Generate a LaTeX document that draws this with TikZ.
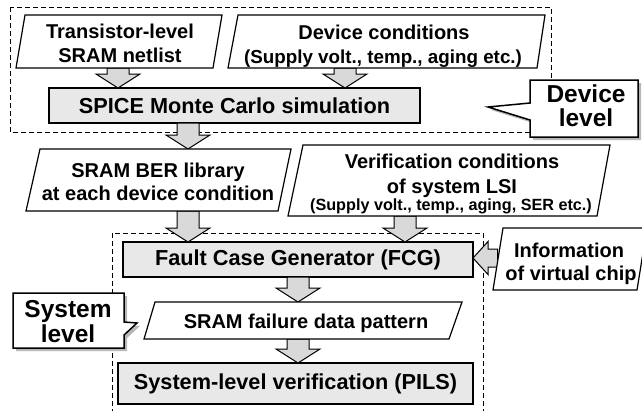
\documentclass[tikz,border=0pt]{standalone}
\usepackage{fontspec}
\setmainfont{Liberation Sans}
\usetikzlibrary{calc}

\definecolor{boxgray}{gray}{0.91}
\definecolor{arrowgray}{gray}{0.85}
\definecolor{shadowgray}{gray}{0.72}

\tikzset{
  every node/.style={inner sep=0pt, outer sep=0pt},
  lbl/.style={anchor=base, font=\bfseries\fontsize{20}{24}\selectfont},
  small/.style={anchor=base, font=\bfseries\fontsize{18.8}{22}\selectfont},
  smaller/.style={anchor=base, font=\bfseries\fontsize{16.2}{19}\selectfont},
  big/.style={anchor=base, font=\bfseries\fontsize{24.5}{28}\selectfont},
  graybox/.style={draw, fill=boxgray, line width=1.2pt,
    font=\bfseries\fontsize{21.7}{26}\selectfont},
  para/.style={draw, fill=white, line width=1.2pt, line join=miter},
  frame/.style={draw, line width=0.9pt, dash pattern=on 5pt off 3pt},
  blockarrow/.style={draw, fill=arrowgray, line width=1pt, line join=miter},
  callout/.style={draw, fill=white, line width=1.5pt, line join=miter},
  calloutshadow/.style={fill=shadowgray, shift={(3,3)}}
}

% downward block arrow at the x of #1, from the y of #1 to the y of #2
\newcommand\fatdown[2]{%
  \path[blockarrow] let \p1=(#1), \p2=(#2) in
    (\x1-11pt,\y1) -- (\x1+11pt,\y1) -- (\x1+11pt,\y2+14pt) -- (\x1+22pt,\y2+14pt)
    -- (\x1,\y2) -- (\x1-22pt,\y2+14pt) -- (\x1-11pt,\y2+14pt) -- cycle;}
% leftward block arrow at the y of #1, from the x of #1 to the x of #2
\newcommand\fatleft[2]{%
  \path[blockarrow] let \p1=(#1), \p2=(#2) in
    (\x1,\y1+9pt) -- (\x2+15pt,\y1+9pt) -- (\x2+15pt,\y1+16.5pt) -- (\x2,\y1)
    -- (\x2+15pt,\y1-16.5pt) -- (\x2+15pt,\y1-9pt) -- (\x1,\y1-9pt) -- cycle;}

\begin{document}
\begin{tikzpicture}[x=1pt,y=-1pt]
\useasboundingbox (0,0) rectangle (642,410);

% dashed frames of the two levels
\draw[frame] (10,7) rectangle (551,132);
\draw[frame] (112,414) -- (112,233) -- (483,233) -- (483,414);

% process boxes
\node[graybox, minimum width=371pt, minimum height=35pt] (spice) at (234.5,105.5)
  {SPICE Monte Carlo simulation};
\node[graybox, minimum width=350pt, minimum height=35pt] (fcg) at (298,259.5)
  {Fault Case Generator (FCG)};
\node[graybox, minimum width=355pt, minimum height=41pt] (pils) at (295.5,383.5)
  {System-level verification (PILS)};

% ports on the data shapes
\coordinate (netlist-out) at (118,68);
\coordinate (cond-out) at (345,68);
\coordinate (spice-out) at (188,123);
\coordinate (ber-in) at (188,149);
\coordinate (ber-out) at (188,211);
\coordinate (ver-out) at (405,216);
\coordinate (info-out) at (497.5,258);
\coordinate (fail-in) at (298,302);
\coordinate (fail-out) at (298,339);

% flow arrows
\fatdown{netlist-out}{spice.north}
\fatdown{cond-out}{spice.north}
\fatdown{spice-out}{ber-in}
\fatdown{ber-out}{fcg.north}
\fatdown{ver-out}{fcg.north}
\fatleft{info-out}{fcg.east}
\fatdown{fcg.south}{fail-in}
\fatdown{fail-out}{pils.north}

% data shapes
\draw[para] (25,15) -- (222,15) -- (213,68) -- (16,68) -- cycle;
\node[lbl] (netlist-l1) at (120,38) {Transistor-level};
\node[lbl] (netlist-l2) at (120,62) {SRAM netlist};

\draw[para] (238,15) -- (545,15) -- (537,68) -- (228,68) -- cycle;
\node[lbl] (cond-l1) at (384,39) {Device conditions};
\node[small] (cond-l2) at (383,63) {(Supply volt., temp., aging etc.)};

\draw[para] (40,149) -- (291,149) -- (278,211) -- (26,211) -- cycle;
\node[lbl] (ber-l1) at (158,177) {SRAM BER library};
\node[lbl] (ber-l2) at (158,200) {at each device condition};

\draw[para] (303,145) -- (610,145) -- (597,216) -- (288,216) -- cycle;
\node[lbl] (ver-l1) at (452,168) {Verification conditions};
\node[lbl] (ver-l2) at (452,193) {of system LSI};
\node[smaller] (ver-l3) at (451,210) {(Supply volt., temp., aging, SER etc.)};

\draw[para] (503,228) -- (647,228) -- (637,290) -- (493,290) -- cycle;
\node[lbl] (info-l1) at (569,257) {Information};
\node[lbl] (info-l2) at (571,280) {of virtual chip};

\draw[para] (155,302) -- (462,302) -- (449,339) -- (144,339) -- cycle;
\node[lbl] (fail-l) at (306,328) {SRAM failure data pattern};

% level callouts
\path[calloutshadow] (530,80) -- (638,80) -- (638,137) -- (530,137) -- (530,120)
  -- (488,107) -- (530,103) -- cycle;
\draw[callout] (530,80) -- (638,80) -- (638,137) -- (530,137) -- (530,120)
  -- (488,107) -- (530,103) -- cycle;
\node[big] (dev-l1) at (586,102) {Device};
\node[big] (dev-l2) at (586,126.5) {level};

\path[calloutshadow] (13,293) -- (124,293) -- (124,322) -- (137,323) -- (124,335)
  -- (124,348) -- (13,348) -- cycle;
\draw[callout] (13,293) -- (124,293) -- (124,322) -- (137,323) -- (124,335)
  -- (124,348) -- (13,348) -- cycle;
\node[big] (sys-l1) at (68,317.5) {System};
\node[big] (sys-l2) at (68,342) {level};
\end{tikzpicture}
\end{document}
